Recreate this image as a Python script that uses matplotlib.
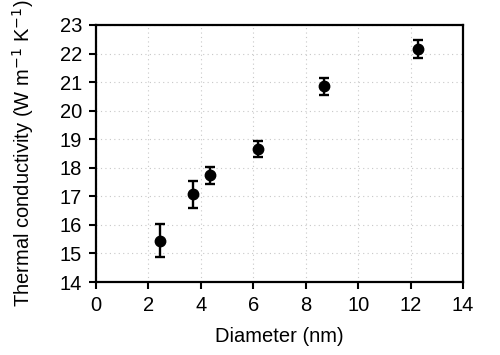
import matplotlib
matplotlib.use("Agg")
import matplotlib.pyplot as plt

plt.rcParams['font.family'] = ['Liberation Sans', 'DejaVu Sans']

diameter = [2.45, 3.69, 4.35, 6.17, 8.71, 12.3]
conductivity = [15.45, 17.07, 17.73, 18.65, 20.86, 22.17]
error = [0.58, 0.48, 0.30, 0.28, 0.30, 0.31]
xticks = [0, 2, 4, 6, 8, 10, 12, 14]
yticks = [14, 15, 16, 17, 18, 19, 20, 21, 22, 23]

fig = plt.figure(figsize=(5, 3.55), dpi=100)
ax = fig.add_axes([0.192, 0.2056, 0.734, 0.724])

ax.errorbar(diameter, conductivity, yerr=error, fmt='o', color='black',
            markersize=7.5, capsize=3.8, elinewidth=1.7, capthick=1.7, zorder=3)

ax.set_xlim(0, 14)
ax.set_ylim(14, 23)
ax.set_xticks(xticks)
ax.set_yticks(yticks)
ax.grid(True, linestyle=(0, (1, 3)), color='#c8c8c8', linewidth=0.8)
ax.tick_params(direction='out', length=5, width=1.5, labelsize=14.5, colors='black',
               top=False, right=False, pad=5)
for s in ax.spines.values():
    s.set_linewidth(1.6)

ax.set_xlabel('Diameter (nm)', fontsize=14.5, labelpad=9)
ax.set_ylabel('Thermal conductivity (W m$^{-1}$ K$^{-1}$)', fontsize=14.5, labelpad=17)

fig.savefig('out.png', dpi=100)
